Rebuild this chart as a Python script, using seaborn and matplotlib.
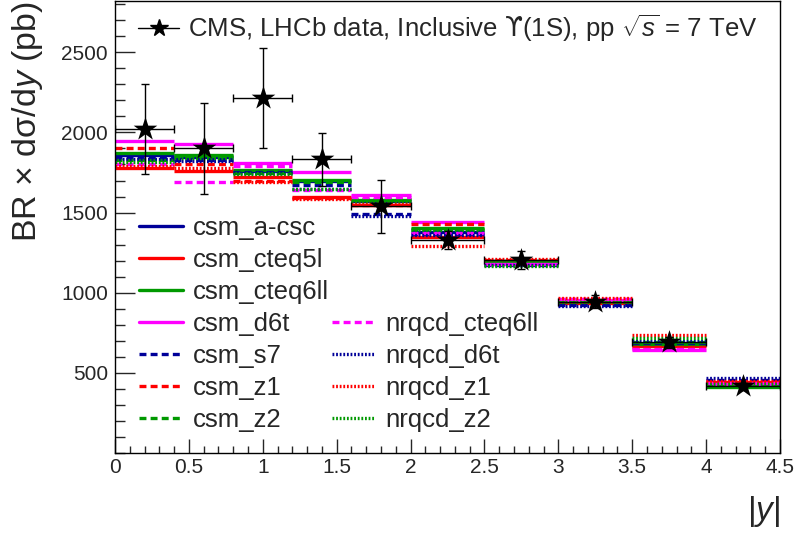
import numpy as np
import pandas as pd
import matplotlib
matplotlib.use('Agg')
import matplotlib.pyplot as plt
from matplotlib.lines import Line2D
from matplotlib.ticker import MultipleLocator, FuncFormatter
import seaborn as sns

# Bins in |y| (CMS up to 2, LHCb above)
bin_lo = [0.0, 0.4, 0.8, 1.2, 1.6, 2.0, 2.5, 3.0, 3.5, 4.0]
bin_hi = [0.4, 0.8, 1.2, 1.6, 2.0, 2.5, 3.0, 3.5, 4.0, 4.5]

# Measured BR x dsigma/dy (pb)
data_y = [2020, 1900, 2212, 1832, 1540, 1330, 1205, 945, 690, 417]
data_err = [280, 285, 312, 166, 165, 58, 55, 42, 33, 22]

# Model predictions per bin
csm_a_csc = [1858, 1845, 1760, 1700, 1570, 1380, 1195, 940, 680, 425]
csm_cteq5l = [1780, 1760, 1720, 1600, 1545, 1350, 1185, 935, 665, 440]
csm_cteq6ll = [1872, 1862, 1765, 1705, 1580, 1405, 1200, 947, 678, 413]
csm_d6t = [1945, 1925, 1808, 1755, 1612, 1442, 1182, 955, 645, 432]
csm_s7 = [1843, 1830, 1755, 1670, 1490, 1365, 1175, 925, 685, 455]
csm_z1 = [1905, 1805, 1700, 1590, 1550, 1430, 1205, 960, 660, 445]
csm_z2 = [1828, 1850, 1745, 1690, 1585, 1400, 1190, 950, 690, 420]
nrqcd_cteq6ll = [1800, 1690, 1790, 1640, 1600, 1370, 1178, 958, 650, 435]
nrqcd_d6t = [1835, 1820, 1750, 1650, 1480, 1360, 1170, 920, 700, 465]
nrqcd_z1 = [1792, 1775, 1690, 1585, 1560, 1290, 1210, 965, 735, 450]
nrqcd_z2 = [1815, 1840, 1740, 1645, 1575, 1390, 1165, 940, 716, 428]

model_names = ['csm_a-csc', 'csm_cteq5l', 'csm_cteq6ll', 'csm_d6t', 'csm_s7',
               'csm_z1', 'csm_z2', 'nrqcd_cteq6ll', 'nrqcd_d6t', 'nrqcd_z1',
               'nrqcd_z2']
model_values = [csm_a_csc, csm_cteq5l, csm_cteq6ll, csm_d6t, csm_s7, csm_z1,
                csm_z2, nrqcd_cteq6ll, nrqcd_d6t, nrqcd_z1, nrqcd_z2]

NAVY, RED, GREEN, MAG = '#000099', '#ff0000', '#009900', '#ff00ff'
SOLID, DASH, DOT = '-', (0, (5, 3)), (0, (1.3, 1.3))
model_colors = [NAVY, RED, GREEN, MAG, NAVY, RED, GREEN, MAG, NAVY, RED, GREEN]
model_styles = [SOLID, SOLID, SOLID, SOLID, DASH, DASH, DASH, DASH, DOT, DOT, DOT]

sns.set_style('ticks')
plt.rcParams['font.family'] = ['Liberation Sans', 'DejaVu Sans']
plt.rcParams['mathtext.fontset'] = 'custom'
plt.rcParams['mathtext.rm'] = 'Liberation Sans'
plt.rcParams['mathtext.it'] = 'Liberation Sans:italic'
plt.rcParams['mathtext.sf'] = 'DejaVu Sans'
plt.rcParams['lines.scale_dashes'] = False

W, H = 794, 533
fig = plt.figure(figsize=(W / 100, H / 100), dpi=100)
ax = fig.add_axes([115 / W, 80 / H, 665 / W, 452 / H])

lo = np.array(bin_lo)
hi = np.array(bin_hi)
centers = (lo + hi) / 2
half = (hi - lo) / 2

# Model predictions as horizontal segments over each bin
for name, vals, c, ls in zip(model_names, model_values, model_colors, model_styles):
    ax.hlines(vals, lo, hi, colors=c, linestyles=[ls], linewidth=2.4, zorder=2)

# Data points
df = pd.DataFrame({'y_abs': centers, 'xs': data_y})
ax.errorbar(centers, data_y, xerr=half, yerr=data_err, fmt='none',
            ecolor='black', elinewidth=1.0, capsize=3, capthick=1.0, zorder=4)
sns.scatterplot(data=df, x='y_abs', y='xs', marker='*', s=320, color='black',
                edgecolor='black', linewidth=0, ax=ax, zorder=5, legend=False)

ax.set_xlim(0, 4.5)
ax.set_ylim(0, 2820)
ax.set_xticks(np.arange(0, 4.51, 0.5))
ax.xaxis.set_minor_locator(MultipleLocator(0.1))
ax.set_yticks([500, 1000, 1500, 2000, 2500])
ax.yaxis.set_minor_locator(MultipleLocator(100))
ax.xaxis.set_major_formatter(FuncFormatter(lambda v, p: '%g' % v))
ax.tick_params(axis='x', which='major', direction='in', length=9.8, width=1,
               labelsize=15, pad=3.6)
ax.tick_params(axis='x', which='minor', direction='in', length=4.9, width=1)
ax.tick_params(axis='y', which='major', direction='in', length=14.4, width=1,
               labelsize=15, pad=5)
ax.tick_params(axis='y', which='minor', direction='in', length=7.2, width=1)
for sp in ax.spines.values():
    sp.set_linewidth(1.0)
    sp.set_color('black')

ax.set_xlabel('|$y$|', fontsize=24, loc='right')
ax.xaxis.set_label_coords(1.0, -0.09)
ax.set_ylabel('BR × dσ/d$y$ (pb)', fontsize=24.5, loc='top')
ax.yaxis.set_label_coords(-0.105, 1.0)

# Data legend on top
data_handle = Line2D([], [], color='black', lw=1.0, marker='*', markersize=13)
leg1 = ax.legend([data_handle],
                 ['CMS, LHCb data, Inclusive $\\mathsf{ϒ}$(1S), pp $\\sqrt{s}$ = 7 TeV'],
                 loc='center left', bbox_to_anchor=(138 / W, 1 - 28 / H),
                 bbox_transform=fig.transFigure, frameon=False, fontsize=18.5,
                 borderpad=0, borderaxespad=0, handlelength=1.6,
                 handletextpad=0.35)
ax.add_artist(leg1)

# Model legend: two columns, second column starting at the fourth row
handles = [Line2D([], [], color=c, lw=2.4, linestyle=ls)
           for c, ls in zip(model_colors, model_styles)]
blank = Line2D([], [], lw=0, alpha=0)
leg_handles = handles[:7] + [blank] * 3 + handles[7:]
leg_labels = model_names[:7] + [''] * 3 + model_names[7:]
ax.legend(leg_handles, leg_labels, ncol=2, loc='upper left',
          bbox_to_anchor=(139 / W, 1 - 216 / H), bbox_transform=fig.transFigure,
          frameon=False, fontsize=18.5, borderpad=0, borderaxespad=0,
          handlelength=1.7, handletextpad=0.4, labelspacing=0.31,
          columnspacing=0.1)

fig.savefig('out.png', dpi=100, facecolor='white')
